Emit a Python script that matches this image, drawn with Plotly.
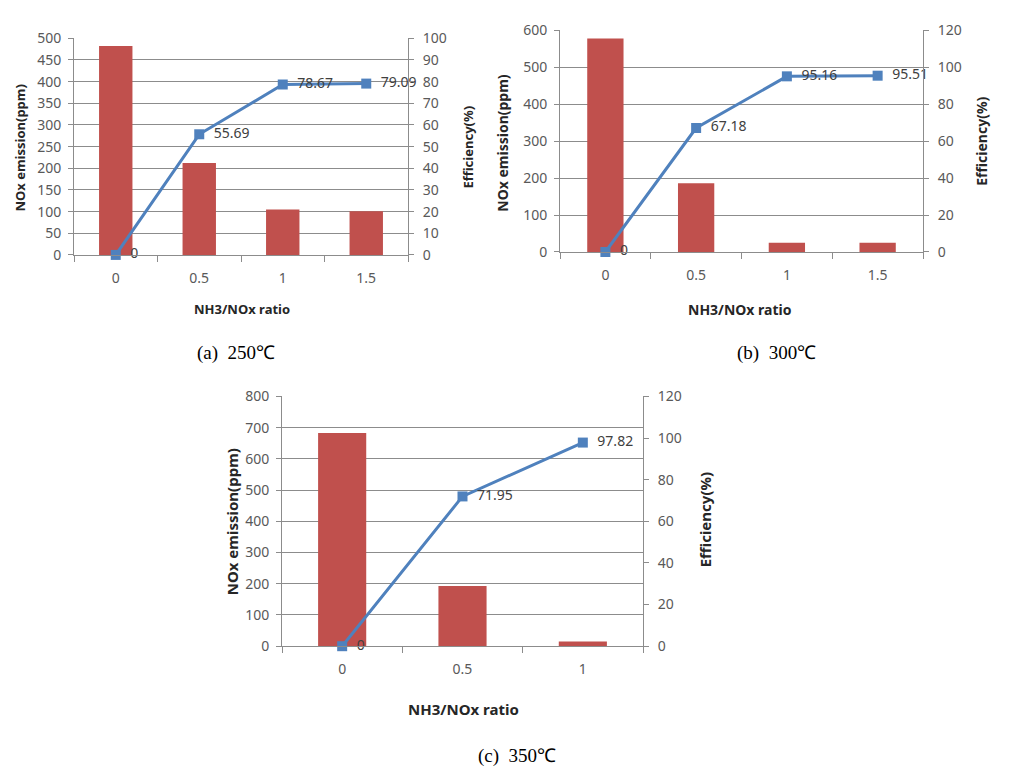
import plotly.graph_objects as go

# ---- data ----
ratios_a = ["0", "0.5", "1", "1.5"]
nox_a = [482, 212, 105, 101]
eff_a = [0, 55.69, 78.67, 79.09]

ratios_b = ["0", "0.5", "1", "1.5"]
nox_b = [578, 186, 25, 25]
eff_b = [0, 67.18, 95.16, 95.51]

ratios_c = ["0", "0.5", "1"]
nox_c = [683, 193, 15]
eff_c = [0, 71.95, 97.82]

captions = ["(a)  250℃", "(b)  300℃", "(c)  350℃"]

W, H = 1026, 784
BAR = "#C0504D"
LINE = "#4F81BD"
GRID = "#8C8C8C"
TICKC = "#595959"
FONT = "Noto Sans"


def px(x):
    return x / W


def py(y):
    return 1 - y / H


panels = [
    dict(cats=ratios_a, nox=nox_a, eff=eff_a, x0=74, x1=408, top=29, bot=251,
         lmax=500, ld=50, rmax=100, rd=10, fs=14, ts=13),
    dict(cats=ratios_b, nox=nox_b, eff=eff_b, x0=560, x1=923, top=21, bot=248,
         lmax=600, ld=100, rmax=120, rd=20, fs=14, ts=14),
    dict(cats=ratios_c, nox=nox_c, eff=eff_c, x0=282, x1=643, top=396, bot=652,
         lmax=800, ld=100, rmax=120, rd=20, fs=14, ts=15),
]

fig = go.Figure()
layout = dict(
    width=W, height=H, margin=dict(l=0, r=0, t=0, b=0),
    paper_bgcolor="white", plot_bgcolor="white", showlegend=False,
    font=dict(family=FONT, color=TICKC),
)

NB = "\u00a0\u00a0"
for i, p in enumerate(panels):
    xa = "x" if i == 0 else f"x{i+1}"
    yl = 2 * i + 1
    yr = 2 * i + 2
    yla = "y" if yl == 1 else f"y{yl}"
    yra = f"y{yr}"
    fig.add_trace(go.Bar(x=p["cats"], y=p["nox"], xaxis=xa, yaxis=yla,
                         marker=dict(color=BAR, line=dict(width=0)), width=0.4))
    fig.add_trace(go.Scatter(x=p["cats"], y=p["eff"], xaxis=xa, yaxis=yra,
                             mode="lines+markers+text",
                             line=dict(color=LINE, width=3),
                             marker=dict(symbol="square", size=10, color=LINE),
                             text=[NB + (("%g" % v) if v == 0 else ("%.2f" % v)) for v in p["eff"]],
                             textposition="middle right",
                             textfont=dict(family=FONT, size=p["fs"], color="#404040"),
                             cliponaxis=False))
    xkey = "xaxis" if i == 0 else f"xaxis{i+1}"
    ylkey = "yaxis" if yl == 1 else f"yaxis{yl}"
    yrkey = f"yaxis{yr}"
    layout[xkey] = dict(domain=[px(p["x0"]), px(p["x1"])], anchor=yla,
                        type="category", range=[-0.5, len(p["cats"]) - 0.5],
                        showline=True, linecolor=GRID, linewidth=1,
                        ticks="outside", tickson="boundaries", ticklen=6, tickcolor=GRID,
                        ticklabelstandoff=10,
                        showgrid=False, tickfont=dict(size=p["fs"], color=TICKC),
                        fixedrange=True)
    layout[ylkey] = dict(domain=[py(p["bot"]), py(p["top"])], anchor=xa,
                         range=[0, p["lmax"]], dtick=p["ld"], tick0=0,
                         showline=True, linecolor=GRID, linewidth=1,
                         ticks="outside", ticklen=5, tickcolor=GRID,
                         ticklabelstandoff=4,
                         showgrid=True, gridcolor=GRID, gridwidth=1, zeroline=False,
                         tickfont=dict(size=p["fs"], color=TICKC))
    layout[yrkey] = dict(overlaying=yla, side="right", anchor=xa,
                         range=[0, p["rmax"]], dtick=p["rd"], tick0=0,
                         showline=True, linecolor=GRID, linewidth=1,
                         ticks="outside", ticklen=5, tickcolor=GRID,
                         ticklabelstandoff=6,
                         showgrid=False, zeroline=False,
                         tickfont=dict(size=p["fs"], color=TICKC))

annotations = []
title_pos = [
    ((20, 141), (468, 141), (242, 306)),
    ((503, 136), (982, 135), (740, 307)),
    ((232, 525), (705, 523), (463, 716)),
]
for p, (lt, rt, xt) in zip(panels, title_pos):
    f = dict(family=FONT, size=p["ts"], color="#262626")
    annotations.append(dict(x=px(lt[0]), y=py(lt[1]), xref="paper", yref="paper",
                            text="<b>NOx emission(ppm)</b>", textangle=-90,
                            showarrow=False, font=f, xanchor="center", yanchor="middle"))
    annotations.append(dict(x=px(rt[0]), y=py(rt[1]), xref="paper", yref="paper",
                            text="<b>Efficiency(%)</b>", textangle=-90,
                            showarrow=False, font=f, xanchor="center", yanchor="middle"))
    annotations.append(dict(x=px(xt[0]), y=py(xt[1]), xref="paper", yref="paper",
                            text="<b>NH3/NOx ratio</b>",
                            showarrow=False, font=f, xanchor="center", yanchor="middle"))

cap_pos = [(236, 352), (776, 352), (517, 765)]
for c, (cx, cy) in zip(captions, cap_pos):
    annotations.append(dict(x=px(cx), y=py(cy), xref="paper", yref="paper", text=c,
                            showarrow=False, xanchor="center", yanchor="middle",
                            font=dict(family="Liberation Serif", size=19, color="#000000")))

layout["annotations"] = annotations
fig.update_layout(**layout)

fig.write_html("out.html", config={"displayModeBar": False},
               post_script="document.body.style.margin='0';")
